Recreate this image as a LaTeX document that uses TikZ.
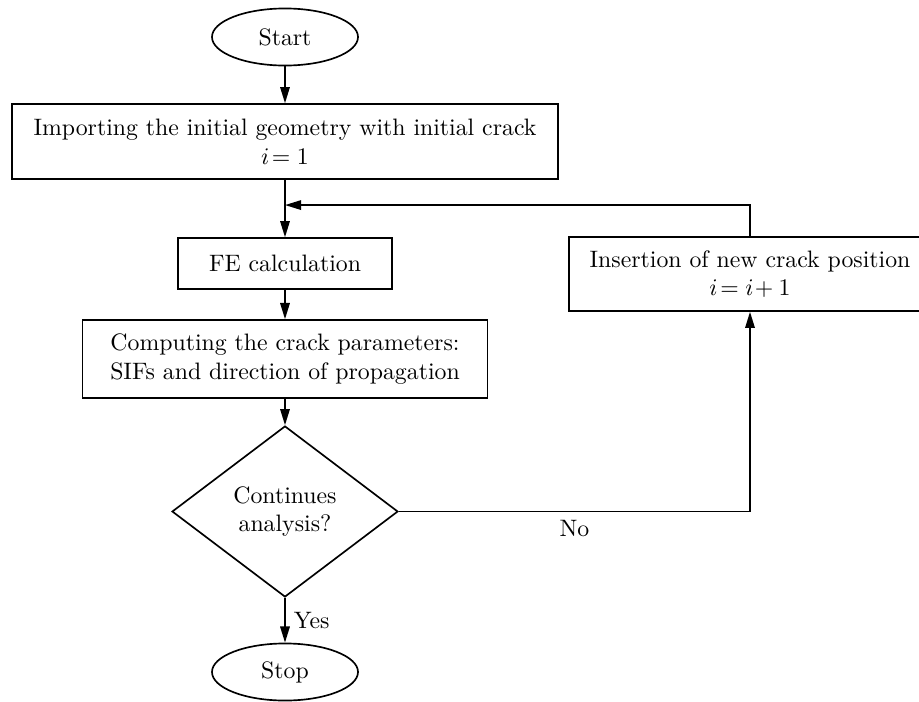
\documentclass[tikz,border=0pt]{standalone}
\usetikzlibrary{arrows.meta,positioning,shapes.geometric,calc}

\begin{document}
\begin{tikzpicture}[x=0.4205pt,y=-0.4205pt,
    process/.style={rectangle, draw, line width=0.7pt, inner sep=0pt, align=center},
    terminal/.style={ellipse, draw, line width=0.7pt, inner sep=0pt,
          minimum width=61.4pt, minimum height=24pt},
    decision/.style={diamond, draw, line width=0.7pt, inner sep=0pt, align=center,
          minimum width=95pt, minimum height=71.9pt},
    arr/.style={line width=0.7pt, -{Triangle[length=6.8pt,width=4pt]}}]
    \useasboundingbox (0,0) rectangle (919,702);

    % Start and stop
    \node[terminal] (start) at (285,37) {Start};
    \node[terminal] (stop) at (285,672) {Stop};

    % Main steps
    \node[process, minimum width=229.6pt, minimum height=31.5pt] (imp) at (285,141.5)
      {Importing the initial geometry with initial crack\\$i\!=1$};
    \node[process, minimum width=90pt, minimum height=21.4pt] (fe) at (285,263.5)
      {FE calculation};
    \node[process, minimum width=170.3pt, minimum height=32.8pt] (comp) at (285,359)
      {Computing the crack parameters:\\SIFs and direction of propagation};
    \node[decision] (dec) at (285,511.5) {Continues\\analysis?};

    % Loop back
    \node[process, minimum width=152.2pt, minimum height=31.1pt] (ins) at (750,274)
      {Insertion of new crack position\\$i\!=i\!+1$};
    \coordinate (join) at ($(imp.south)!0.44!(fe.north)$);

    % Connectors
    \draw[arr] (start) -- (imp);
    \draw[arr] (imp) -- (fe);
    \draw[arr] (fe) -- (comp);
    \draw[arr] (comp) -- (dec);
    \draw[arr] (dec) -- node[right] {Yes} (stop);
    \draw[arr] (dec.east) -- node[below, pos=0.5] {No} (dec.east -| ins.south) -- (ins.south);
    \draw[arr] (ins.north) |- (join);
  \end{tikzpicture}
\end{document}
